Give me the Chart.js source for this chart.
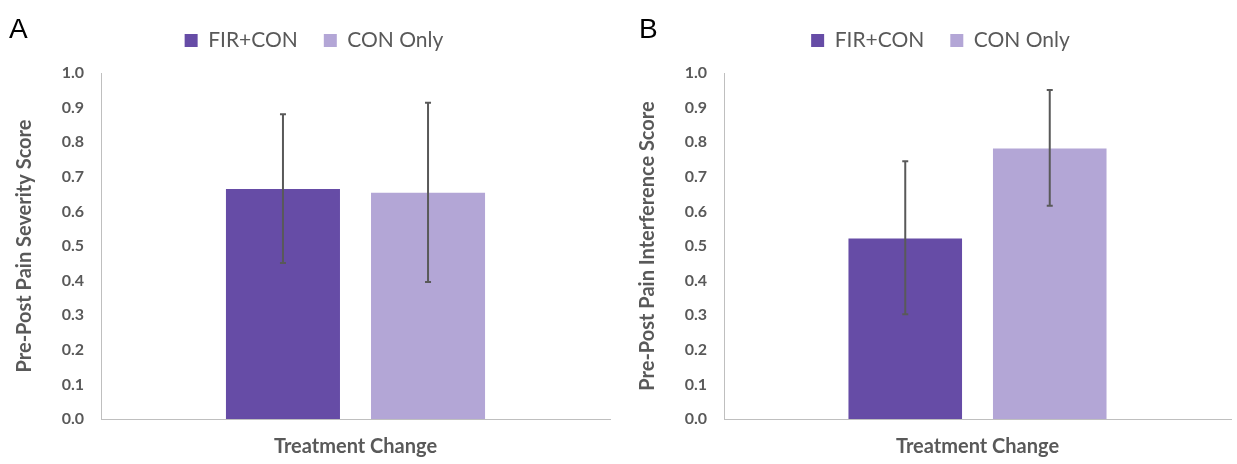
<!DOCTYPE html>
<html>
<head>
<meta charset="utf-8">
<script src="https://cdn.jsdelivr.net/npm/chart.js@4.4.1/dist/chart.umd.min.js"></script>
<style>
  body { margin: 0; background: #fff; width: 1237px; height: 464px; position: relative; overflow: hidden; }
  .panel { position: absolute; top: 0; width: 618px; height: 464px; }
  .tag { position: absolute; font-family: "Liberation Sans", Arial, sans-serif; font-size: 28px; line-height: 28px; color: #000; }
</style>
</head>
<body>
<div class="panel" style="left:0"><canvas id="chartA" width="618" height="464"></canvas></div>
<div class="panel" style="left:619px"><canvas id="chartB" width="618" height="464"></canvas></div>
<div class="tag" style="left:9px;top:15px">A</div>
<div class="tag" style="left:639px;top:15px">B</div>

<script>
// values
const categories = ['Treatment Change'];
const seriesNames = ['FIR+CON', 'CON Only'];

// panel A: pain severity (FIR+CON, CON Only)
const severityMean = [0.665, 0.654];
const severityLow = [0.451, 0.396];
const severityHigh = [0.881, 0.914];

// panel B: pain interference
const interferenceMean = [0.522, 0.782];
const interferenceLow = [0.303, 0.616];
const interferenceHigh = [0.745, 0.951];

const seriesColors = ['#664ca6', '#b3a6d6'];
const textGray = '#595959';
const fontFamily = 'Lato, "Open Sans", sans-serif';

// draws the vertical error bars on top of each bar
const errorBars = {
  id: 'errorBars',
  afterDatasetsDraw(chart) {
    const ctx = chart.ctx;
    const y = chart.scales.y;
    ctx.save();
    ctx.strokeStyle = textGray;
    ctx.lineWidth = 2;
    chart.data.datasets.forEach((ds, i) => {
      chart.getDatasetMeta(i).data.forEach((bar, j) => {
        const top = y.getPixelForValue(ds.errHigh[j]);
        const bottom = y.getPixelForValue(ds.errLow[j]);
        ctx.beginPath();
        ctx.moveTo(bar.x, top);
        ctx.lineTo(bar.x, bottom);
        ctx.moveTo(bar.x - 3, top);
        ctx.lineTo(bar.x + 3, top);
        ctx.moveTo(bar.x - 3, bottom);
        ctx.lineTo(bar.x + 3, bottom);
        ctx.stroke();
      });
    });
    ctx.restore();
  }
};

// more room between legend and plot
const legendGap = {
  id: 'legendGap',
  beforeInit(chart) {
    const fit = chart.legend.fit;
    chart.legend.fit = function () {
      fit.bind(chart.legend)();
      this.height += 12;
    };
  }
};

function makeChart(id, yTitle, mean, low, high, padLeft, padRight, axisWidth, titlePad) {
  const ctx = document.getElementById(id).getContext('2d');
  return new Chart(ctx, {
    type: 'bar',
    data: {
      labels: categories,
      datasets: seriesNames.map((name, i) => ({
        label: name,
        data: [mean[i]],
        errLow: [low[i]],
        errHigh: [high[i]],
        backgroundColor: seriesColors[i],
        borderWidth: 0,
        categoryPercentage: 0.57,
        barPercentage: 0.786
      }))
    },
    options: {
      responsive: false,
      animation: false,
      layout: { padding: { top: 4, left: padLeft, right: padRight, bottom: 0 } },
      plugins: {
        tooltip: { enabled: false },
        legend: {
          position: 'top',
          labels: {
            boxWidth: 13,
            boxHeight: 13,
            padding: 26,
            color: textGray,
            font: { family: fontFamily, size: 21 }
          }
        }
      },
      scales: {
        x: {
          grid: { display: false, drawTicks: false },
          border: { color: '#bfbfbf', width: 1 },
          ticks: { color: textGray, padding: 16, font: { family: fontFamily, size: 20, weight: 'bold' } },
          afterFit: s => { s.height = 45; }
        },
        y: {
          min: 0,
          max: 1,
          grid: { display: false, drawTicks: false },
          border: { color: '#bfbfbf', width: 1 },
          ticks: {
            stepSize: 0.1,
            color: textGray,
            padding: 17,
            font: { family: fontFamily, size: 16, weight: 'bold' },
            callback: v => v.toFixed(1)
          },
          title: {
            display: true,
            text: yTitle,
            color: textGray,
            padding: { top: titlePad, bottom: 0 },
            font: { family: fontFamily, size: 20, weight: 'bold' }
          },
          afterFit: s => { s.width = axisWidth; }
        }
      }
    },
    plugins: [errorBars, legendGap]
  });
}

makeChart('chartA', 'Pre-Post Pain Severity Score', severityMean, severityLow, severityHigh, 18, 8, 83, -5);
makeChart('chartB', 'Pre-Post Pain Interference Score', interferenceMean, interferenceLow, interferenceHigh, 31, 6, 74, -14);
</script>
</body>
</html>
